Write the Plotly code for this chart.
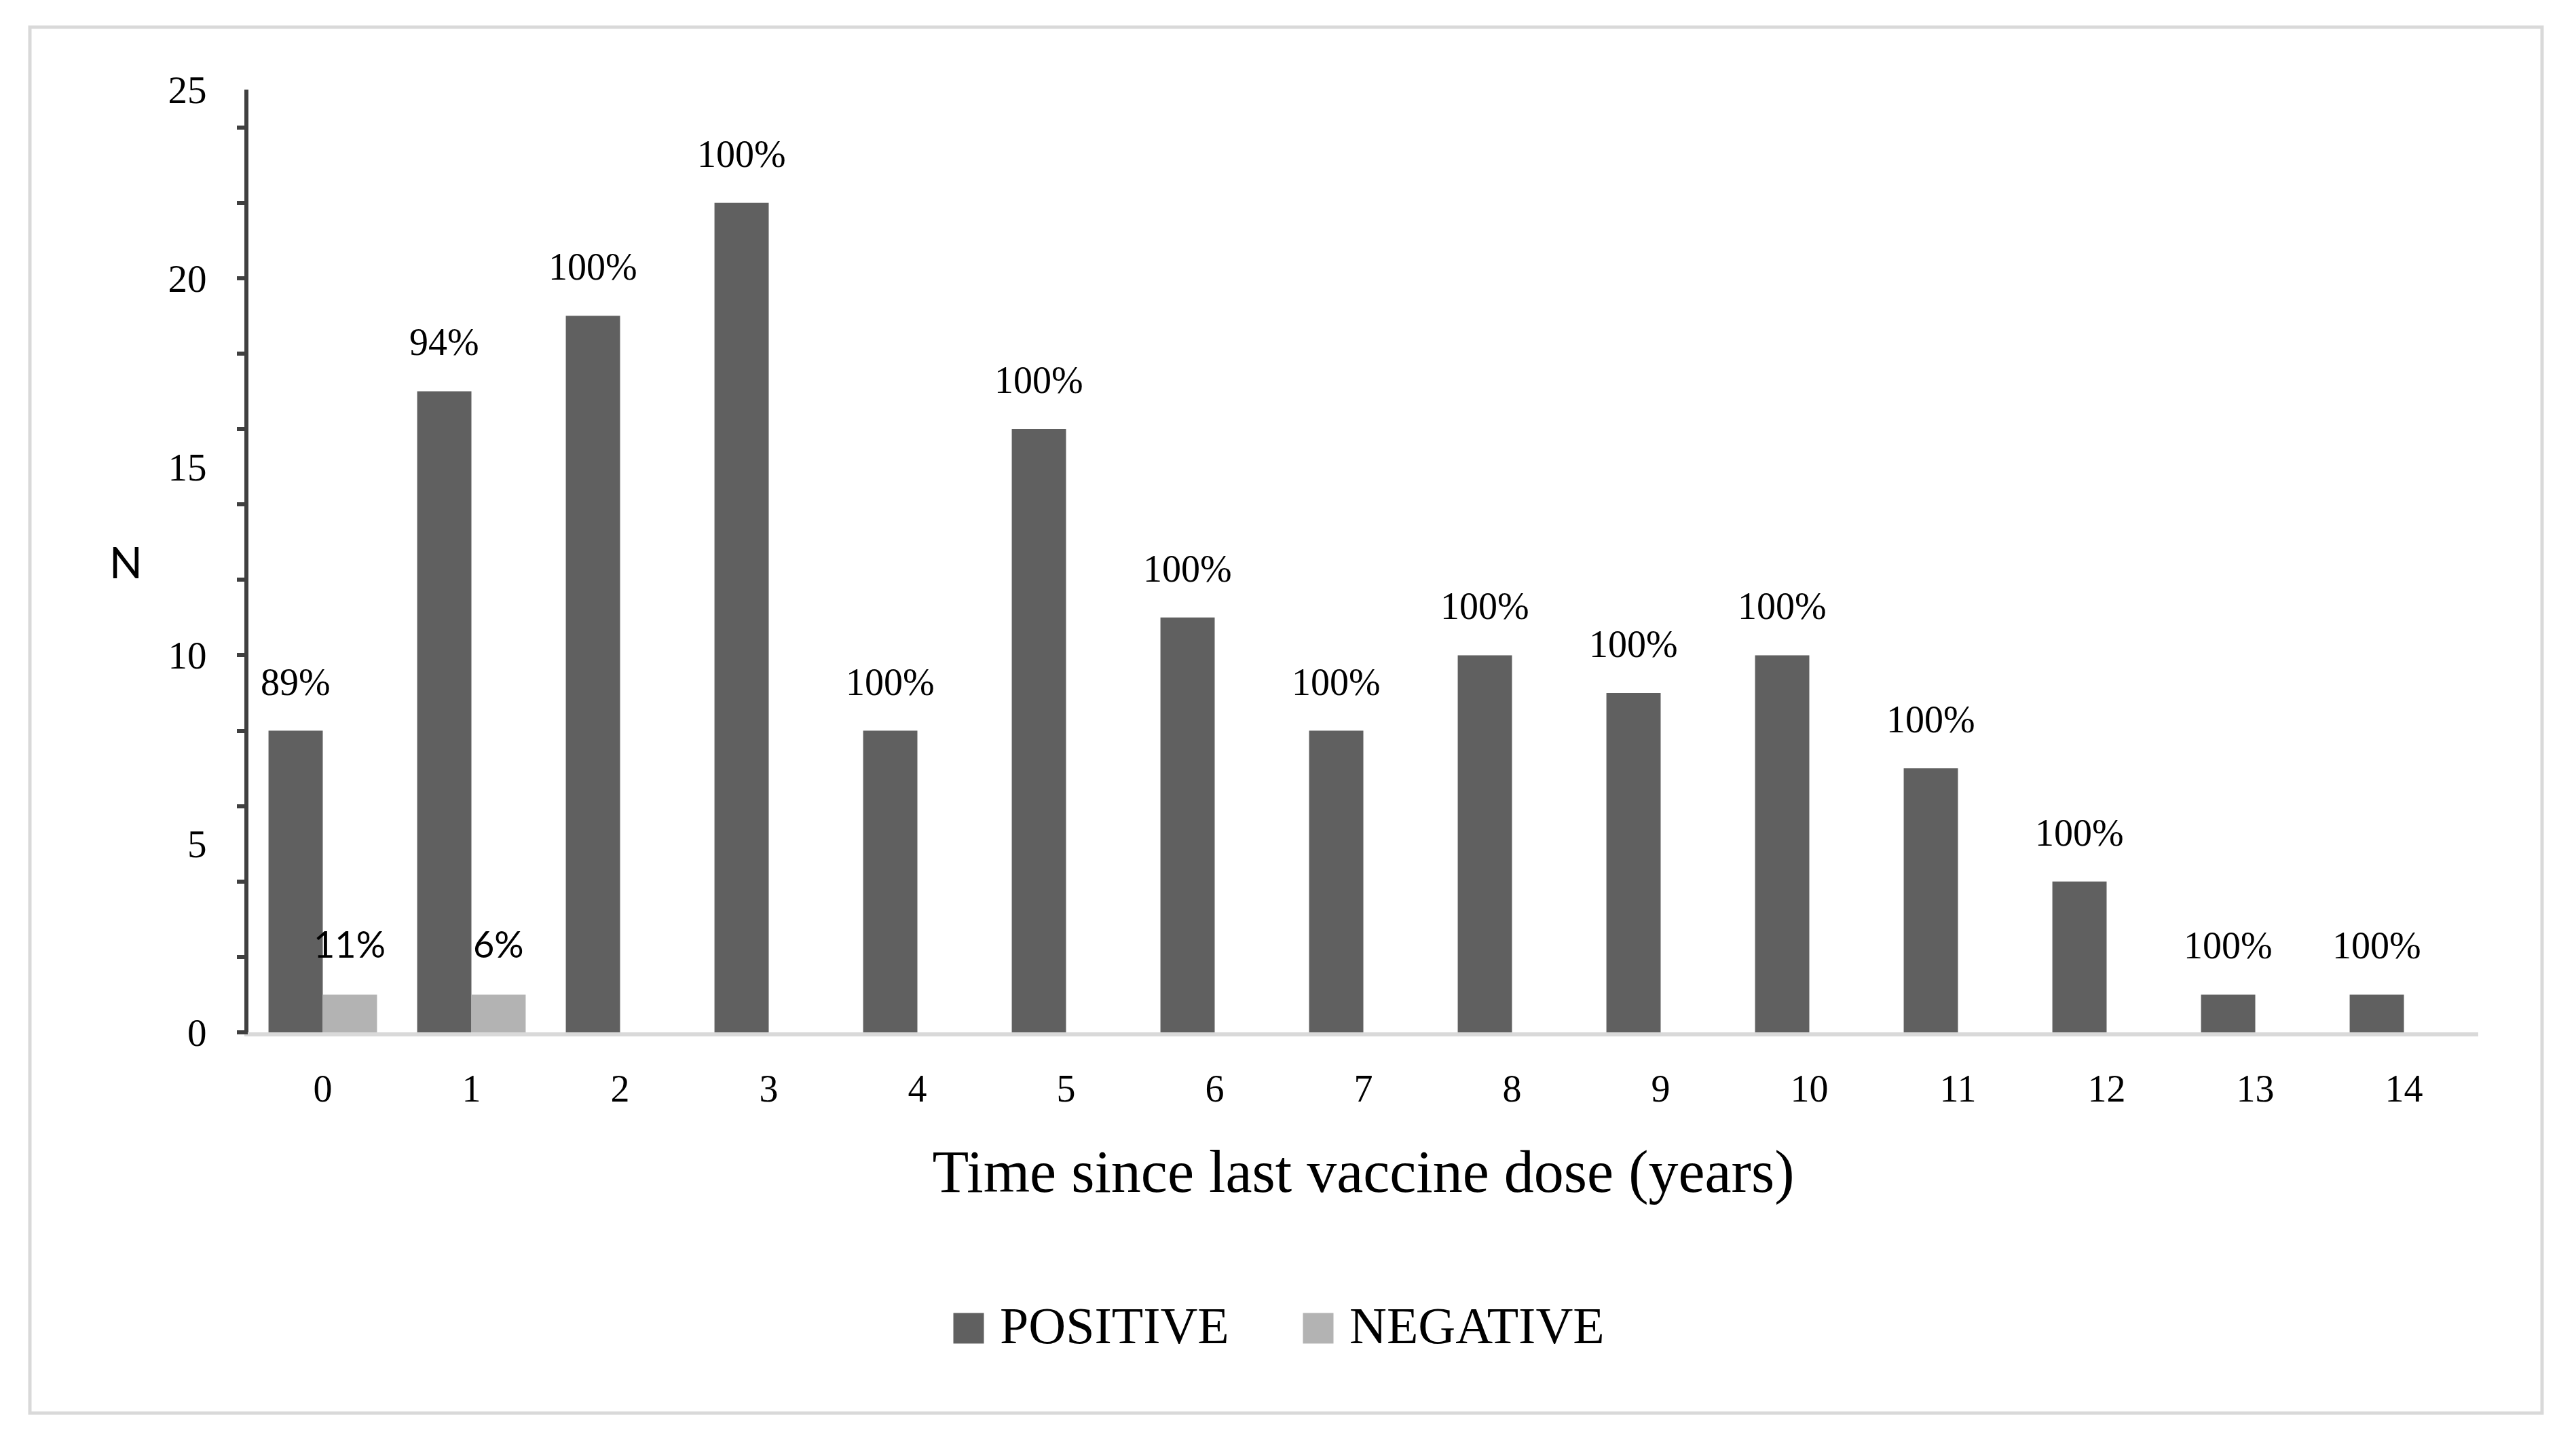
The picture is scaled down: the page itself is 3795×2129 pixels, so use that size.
import plotly.graph_objects as go

# ---- data ----
years = list(range(15))
positive = [8, 17, 19, 22, 8, 16, 11, 8, 10, 9, 10, 7, 4, 1, 1]
negative = [1, 1, 0, 0, 0, 0, 0, 0, 0, 0, 0, 0, 0, 0, 0]
positive_pct = ["89%", "94%", "100%", "100%", "100%", "100%", "100%", "100%",
                "100%", "100%", "100%", "100%", "100%", "100%", "100%"]
negative_pct = ["11%", "6%", "", "", "", "", "", "", "", "", "", "", "", "", ""]
y_tick_vals = [0, 5, 10, 15, 20, 25]
y_minor_ticks = list(range(0, 25, 2))
series_names = ["POSITIVE", "NEGATIVE"]
series_colors = ["#606060", "#b3b3b3"]

W, H = 3795, 2129
ML, MR, MT, MB = 366, 144, 132, 608
PW, PH = W - ML - MR, H - MT - MB
BARGAP = 0.27
BW = (1 - BARGAP) / 2   # width of one bar in category units
half = BW / 2

SERIF = "Liberation Serif"
SANS = "Lato"


def px_x(x):
    return (x - ML) / PW


def px_y(y):
    return (H - MB - y) / PH


fig = go.Figure()
fig.add_trace(go.Bar(x=years, y=positive, name=series_names[0],
                     width=BW, offset=-BW,
                     marker=dict(color=series_colors[0], line=dict(width=0)),
                     showlegend=False))
fig.add_trace(go.Bar(x=years, y=negative, name=series_names[1],
                     width=BW, offset=0, yaxis="y2",
                     marker=dict(color=series_colors[1], line=dict(width=0)),
                     showlegend=False))

annotations = []
for x, v, t in zip(years, positive, positive_pct):
    if t:
        annotations.append(dict(x=x - half, y=v, text=t, showarrow=False,
                                xref="x", yref="y", yanchor="bottom", yshift=39,
                                font=dict(family=SERIF, size=56, color="#000")))
for x, v, t in zip(years, negative, negative_pct):
    if t:
        annotations.append(dict(x=x + half, y=v, text=t, showarrow=False,
                                xref="x", yref="y", yanchor="bottom", yshift=40,
                                font=dict(family=SANS, size=54, color="#000")))

# y label "N" (horizontal, as in the original)
annotations.append(dict(x=px_x(185), y=px_y(827), xref="paper", yref="paper",
                        text="N", showarrow=False, xanchor="center", yanchor="middle",
                        textangle=0,
                        font=dict(family=SANS, size=64, color="#000")))

# custom legend (large square swatches)
shapes = []
legend_sq = [(1427, 1957), (1942, 1957)]
legend_tx = [1471, 1986]
for (cx, cy), tx, name, col in zip(legend_sq, legend_tx, series_names, series_colors):
    shapes.append(dict(type="rect", xref="paper", yref="paper",
                       x0=px_x(cx - 22.5), x1=px_x(cx + 22.5),
                       y0=px_y(cy + 22.5), y1=px_y(cy - 22.5),
                       fillcolor=col, line=dict(width=0)))
    annotations.append(dict(x=px_x(tx), y=px_y(1953), xref="paper", yref="paper",
                            text=name, showarrow=False, xanchor="left", yanchor="middle",
                            font=dict(family=SERIF, size=76, color="#000")))

# outer border
shapes.append(dict(type="rect", xref="paper", yref="paper",
                   x0=px_x(44), x1=px_x(3745), y0=px_y(2082), y1=px_y(40),
                   line=dict(color="#d9d9d9", width=5), fillcolor="rgba(0,0,0,0)",
                   layer="below"))

fig.update_layout(
    width=W, height=H,
    margin=dict(l=ML, r=MR, t=MT, b=MB, pad=0),
    paper_bgcolor="white", plot_bgcolor="white",
    barmode="overlay",
    showlegend=False,
    font=dict(family=SERIF, size=56, color="#000"),
    xaxis=dict(
        range=[-0.5, 14.5], tickmode="array", tickvals=years,
        ticktext=[str(v) for v in years],
        showline=True, linecolor="#d9d9d9", linewidth=6,
        ticks="outside", ticklen=29, tickcolor="rgba(0,0,0,0)",
        showgrid=False, zeroline=False,
        tickfont=dict(family=SERIF, size=56, color="#000"),
        title=dict(text="Time since last vaccine dose (years)", standoff=62,
                   font=dict(family=SERIF, size=88, color="#000")),
    ),
    yaxis=dict(
        range=[0, 25], tickmode="array", tickvals=y_tick_vals,
        showline=True, linecolor="#404040", linewidth=6,
        ticks="outside", ticklen=44, tickcolor="rgba(0,0,0,0)",
        showgrid=False, zeroline=False,
        tickfont=dict(family=SERIF, size=57, color="#000"),
    ),
    yaxis2=dict(
        range=[0, 25], overlaying="y", anchor="x", side="left",
        tickmode="array", tickvals=y_minor_ticks, showticklabels=False,
        ticks="outside", ticklen=16, tickwidth=6, tickcolor="#404040",
        showline=False, showgrid=False, zeroline=False,
    ),
    annotations=annotations,
    shapes=shapes,
)

fig.write_html(
    "out.html",
    config={"displayModeBar": False},
    post_script="document.body.style.margin='0px';document.body.style.overflow='hidden';",
)
